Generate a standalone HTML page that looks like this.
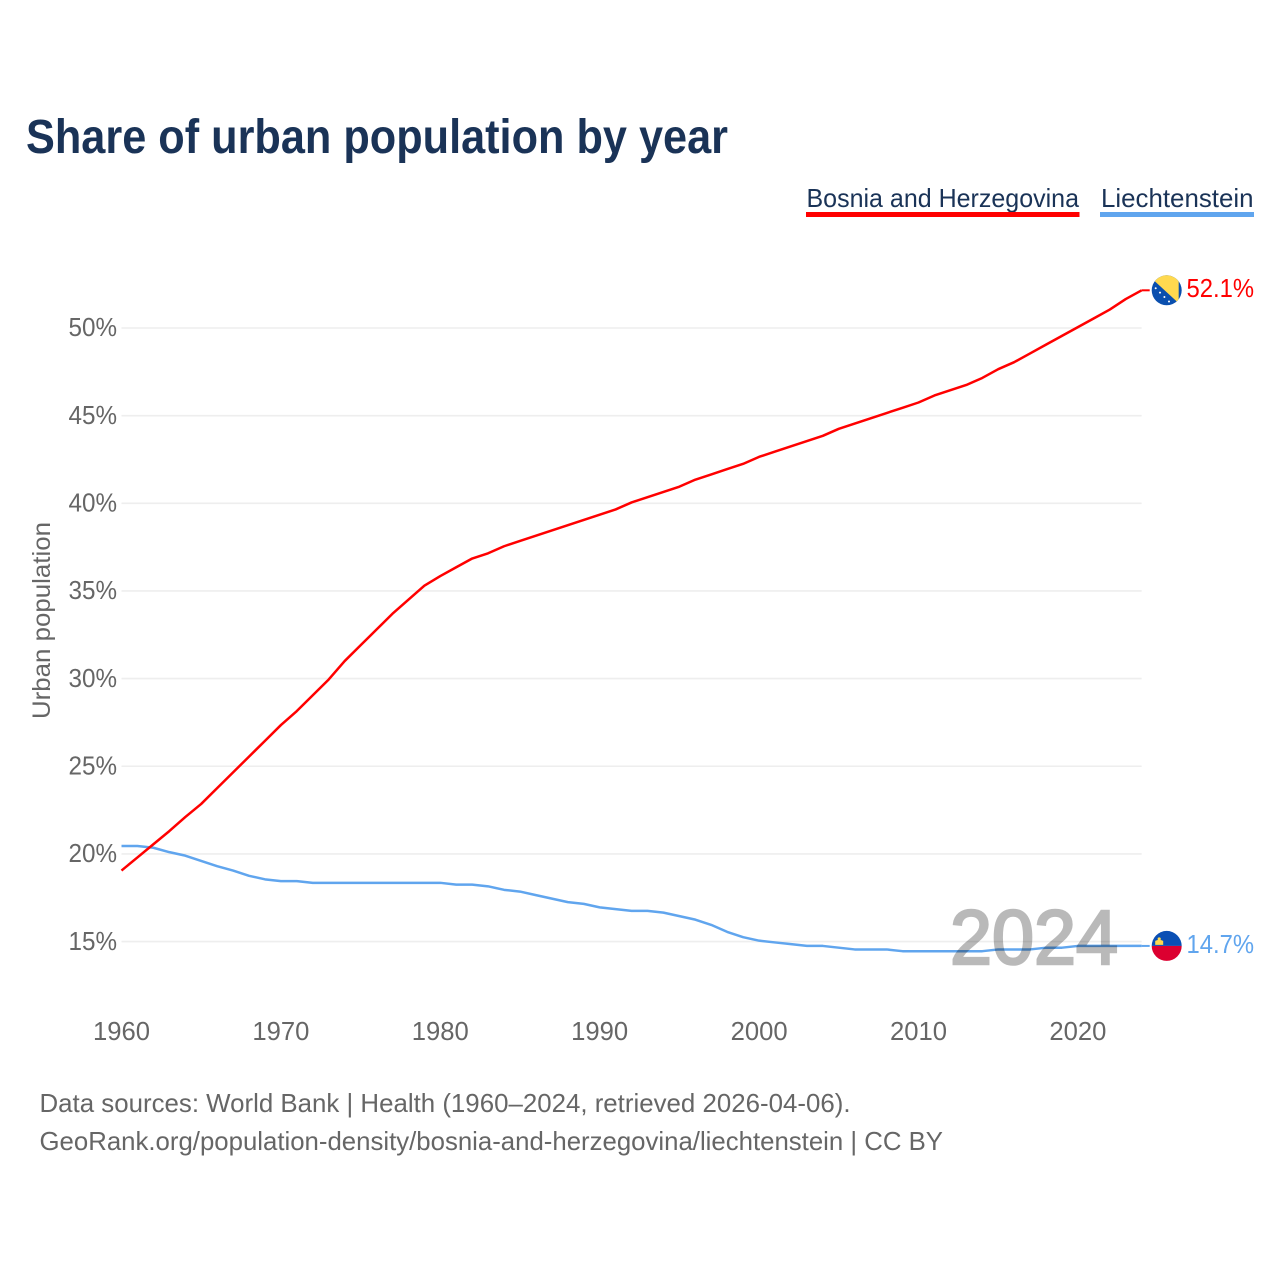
<!DOCTYPE html>
<html lang="en">
<head>
<meta charset="utf-8">
<title>Share of urban population by year</title>
<style>
html,body{margin:0;padding:0;background:#fff;width:1280px;height:1280px;overflow:hidden}
svg{display:block}
text{font-family:"Liberation Sans",sans-serif}
</style>
</head>
<body>
<svg id="chart" xmlns="http://www.w3.org/2000/svg" width="1280" height="1280" viewBox="0 0 1280 1280">
  <defs>
    <clipPath id="flag-clip"><circle r="15"/></clipPath>
  </defs>
  <text x="26" y="153" font-size="48" font-weight="700" fill="#1a3357" textLength="702" lengthAdjust="spacingAndGlyphs">Share of urban population by year</text>
  <g>
    <text x="806.5" y="207" font-size="26" fill="#1a3357" textLength="272.5" lengthAdjust="spacingAndGlyphs">Bosnia and Herzegovina</text>
    <rect x="806" y="212" width="273.5" height="5" fill="#ff0000"/>
  </g>
  <g>
    <text x="1101" y="207" font-size="26" fill="#1a3357" textLength="152.5" lengthAdjust="spacingAndGlyphs">Liechtenstein</text>
    <rect x="1100" y="212" width="154" height="5" fill="#60a5ee"/>
  </g>
  <text transform="translate(50 620.5) rotate(-90)" text-anchor="middle" font-size="25" fill="#666" textLength="197" lengthAdjust="spacingAndGlyphs">Urban population</text>
  <g id="grid"></g>
  <g id="yticks"></g>
  <g id="xticks"></g>
  <g id="series"></g>
  <text x="950" y="964" font-size="77" font-weight="400" fill="#000" stroke="#000" stroke-width="2.6" opacity="0.27" textLength="168" lengthAdjust="spacingAndGlyphs">2024</text>
  <g id="endmarks"></g>
  <text x="39.5" y="1112" font-size="26" fill="#666" textLength="811" lengthAdjust="spacingAndGlyphs">Data sources: World Bank | Health (1960–2024, retrieved 2026-04-06).</text>
  <text x="39.5" y="1150" font-size="26" fill="#666" textLength="903.5" lengthAdjust="spacingAndGlyphs">GeoRank.org/population-density/bosnia-and-herzegovina/liechtenstein | CC BY</text>
</svg>
<script>
const years = [1960,1961,1962,1963,1964,1965,1966,1967,1968,1969,1970,1971,1972,1973,1974,1975,1976,1977,1978,1979,1980,1981,1982,1983,1984,1985,1986,1987,1988,1989,1990,1991,1992,1993,1994,1995,1996,1997,1998,1999,2000,2001,2002,2003,2004,2005,2006,2007,2008,2009,2010,2011,2012,2013,2014,2015,2016,2017,2018,2019,2020,2021,2022,2023,2024];
const bosnia = [19.05,19.8,20.55,21.3,22.1,22.85,23.75,24.65,25.55,26.45,27.35,28.15,29.05,29.95,31.0,31.9,32.8,33.7,34.5,35.3,35.85,36.35,36.85,37.15,37.55,37.85,38.15,38.45,38.75,39.05,39.35,39.65,40.05,40.35,40.65,40.95,41.35,41.65,41.95,42.25,42.65,42.95,43.25,43.55,43.85,44.25,44.55,44.85,45.15,45.45,45.75,46.15,46.45,46.75,47.15,47.65,48.05,48.55,49.05,49.55,50.05,50.55,51.05,51.65,52.15];
const liechtenstein = [20.45,20.45,20.35,20.1,19.9,19.6,19.3,19.05,18.75,18.55,18.45,18.45,18.35,18.35,18.35,18.35,18.35,18.35,18.35,18.35,18.35,18.25,18.25,18.15,17.95,17.85,17.65,17.45,17.25,17.15,16.95,16.85,16.75,16.75,16.65,16.45,16.25,15.95,15.55,15.25,15.05,14.95,14.85,14.75,14.75,14.65,14.55,14.55,14.55,14.45,14.45,14.45,14.45,14.45,14.45,14.55,14.55,14.55,14.65,14.65,14.75,14.75,14.75,14.75,14.75];
const yTicks = [15,20,25,30,35,40,45,50];
const xTicks = [1960,1970,1980,1990,2000,2010,2020];
const bosniaLabel = "52.1%";
const liechtensteinLabel = "14.7%";

const NS = "http://www.w3.org/2000/svg";
const X0 = 121.5, PXYEAR = 15.94, Y50 = 328, PXPCT = 17.53;
function xScale(year){ return X0 + (year - 1960) * PXYEAR; }
function yScale(v){ return Y50 + (50 - v) * PXPCT; }
function make(tag, attrs, parent, text){
  const el = document.createElementNS(NS, tag);
  for (const k in attrs) el.setAttribute(k, attrs[k]);
  if (text !== undefined) el.textContent = text;
  parent.appendChild(el);
  return el;
}
const xEnd = xScale(years[years.length - 1]);

const grid = document.getElementById('grid');
const yT = document.getElementById('yticks');
yTicks.forEach(function(t){
  const line = make('line', {x1:X0, x2:xEnd, y1:yScale(t), y2:yScale(t), stroke:'#eeeeee', 'stroke-width':1.6}, grid);
  
  
  const lab = make('text', {x:117, y:yScale(t)+8.2, 'text-anchor':'end', 'font-size':25.5, fill:'#666', textLength:48.5, lengthAdjust:'spacingAndGlyphs'}, yT, t + '%');
  
  
});
const xT = document.getElementById('xticks');
xTicks.forEach(function(t){
  const lab = make('text', {x:xScale(t), y:1040, 'text-anchor':'middle', 'font-size':25.5, fill:'#666', textLength:57, lengthAdjust:'spacingAndGlyphs'}, xT, t);
  
  
});

function pts(vals){ return vals.map(function(v,i){ return xScale(years[i]).toFixed(2) + ',' + yScale(v).toFixed(2); }).join(' '); }
const series = document.getElementById('series');
const blueLine = make('polyline', {points:pts(liechtenstein), fill:'none', stroke:'#60a5ee', 'stroke-width':2.5, 'stroke-linejoin':'round'}, series);


const redLine = make('polyline', {points:pts(bosnia), fill:'none', stroke:'#ff0000', 'stroke-width':2.5, 'stroke-linejoin':'round'}, series);



const end = document.getElementById('endmarks');
const FX = 1166.7, R = 15;
function endMarker(vals, color, text, dy){
  const y = yScale(vals[vals.length - 1]);
  const conn = make('line', {x1:xEnd, x2:FX - R - 2, y1:y, y2:y, stroke:color, 'stroke-width':2}, end);
  
  
  const lab = make('text', {x:1186.5, y:y + dy, 'font-size':26, fill:color, textLength:67.5, lengthAdjust:'spacingAndGlyphs'}, end, text);
  
  
  return y;
}
const yB = endMarker(bosnia, '#ff0000', bosniaLabel, 6.7);
const yL = endMarker(liechtenstein, '#60a5ee', liechtensteinLabel, 7);

// Bosnia flag
const fb = make('g', {transform:'translate(' + FX + ' ' + yB + ')', 'clip-path':'url(#flag-clip)'}, end);


make('rect', {x:-16, y:-16, width:32, height:32, fill:'#0a4fae'}, fb);
make('path', {d:'M-13,-10 L-8,-16 L12,-16 L12,13 Z', fill:'#ffd94f'}, fb);
make('circle', {cx:-11, cy:-2, r:1, fill:'#fff'}, fb);
make('circle', {cx:-6.7, cy:2.3, r:1, fill:'#fff'}, fb);
make('circle', {cx:-2.3, cy:6.7, r:1, fill:'#fff'}, fb);
make('circle', {cx:2.3, cy:11.2, r:1, fill:'#fff'}, fb);

// Liechtenstein flag
const fl = make('g', {transform:'translate(' + FX + ' ' + yL + ')', 'clip-path':'url(#flag-clip)'}, end);


make('rect', {x:-16, y:-16, width:32, height:16, fill:'#0a4fb4'}, fl);
make('rect', {x:-16, y:0, width:32, height:16, fill:'#dc0030'}, fl);
make('path', {d:'M-11.5,-1 L-11.5,-5 Q-7.5,-7 -3.5,-5 L-3.5,-1 Z', fill:'#ffd94f'}, fl);
make('circle', {cx:-7.5, cy:-7, r:1.6, fill:'#ffd94f'}, fl);
</script>
</body>
</html>
